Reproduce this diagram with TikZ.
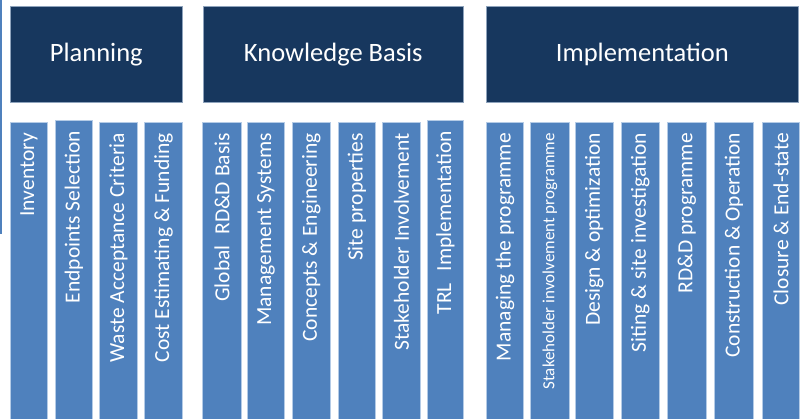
\documentclass[tikz,border=0pt]{standalone}
\usepackage{fontspec}
\setmainfont{Carlito}
\definecolor{hdr}{HTML}{17375E}
\definecolor{hdredge}{HTML}{8EA3BC}
\definecolor{colfill}{HTML}{4F81BD}
\definecolor{coledge}{HTML}{B4CBE6}
\tikzset{
  header/.style={fill=hdr, draw=hdredge, line width=0.6pt, anchor=north west, inner sep=0pt,
    text=white, font=\fontsize{26.5}{28}\selectfont},
  colbox/.style={fill=colfill, draw=coledge, line width=0.8pt, anchor=north west, inner sep=0pt},
  coltext/.style={rotate=90, anchor=east, inner sep=0pt, text=white, font=\fontsize{21.5}{24}\selectfont},
  smalltext/.style={coltext, font=\fontsize{17}{19}\selectfont}
}
\newcommand{\mkcol}[6]{%
  \node[colbox, minimum width={(#3-#2)*1pt}, minimum height={(419-#4)*1pt}] (#1) at (#2,#4) {};
  \path (#1.north) ++(0,11) node[#6] (#1t) {#5};
}
\begin{document}
\begin{tikzpicture}[x=1pt,y=-1pt]
\useasboundingbox (0,0) rectangle (807,419);
\fill[white] (0,0) rectangle (807,419);
% thin edge line at left
\coordinate (la) at (1,0);
\coordinate (lb) at (1,234);
\draw[colfill, line width=1.6pt] (la) -- (lb);
% headers
\node[header, minimum width=172pt, minimum height=96pt] (plan) at (10,6) {Planning};
\node[header, minimum width=260pt, minimum height=96pt] (know) at (203,6) {Knowledge Basis};
\node[header, minimum width=312pt, minimum height=96pt] (impl) at (486,6) {Implementation};
% planning columns
\mkcol{p1}{10}{47}{122}{Inventory}{coltext}
\mkcol{p2}{55}{92}{120}{Endpoints Selection}{coltext}
\mkcol{p3}{99}{137}{122}{Waste Acceptance Criteria}{coltext}
\mkcol{p4}{144}{182}{122}{Cost Estimating \& Funding}{coltext}
% knowledge columns
\mkcol{k1}{202}{241}{122}{Global\hspace{0.5em}RD\&D Basis}{coltext}
\mkcol{k2}{247}{284}{122}{Management Systems}{coltext}
\mkcol{k3}{292}{330}{122}{Concepts \& Engineering}{coltext}
\mkcol{k4}{338}{375}{122}{Site properties}{coltext}
\mkcol{k5}{382}{420}{122}{Stakeholder Involvement}{coltext}
\mkcol{k6}{427}{463}{120}{TRL\hspace{0.55em}Implementation}{coltext}
% implementation columns
\mkcol{i1}{486}{523}{122}{Managing the programme}{coltext}
\mkcol{i2}{530}{569}{122}{Stakeholder involvement programme}{smalltext}
\mkcol{i3}{575}{613}{122}{Design \& optimization}{coltext}
\mkcol{i4}{621}{659}{122}{Siting \& site investigation}{coltext}
\mkcol{i5}{667}{706}{122}{RD\&D programme}{coltext}
\mkcol{i6}{714}{753}{122}{Construction \& Operation}{coltext}
\mkcol{i7}{762}{799}{122}{Closure \& End-state}{coltext}
\end{tikzpicture}
\end{document}
